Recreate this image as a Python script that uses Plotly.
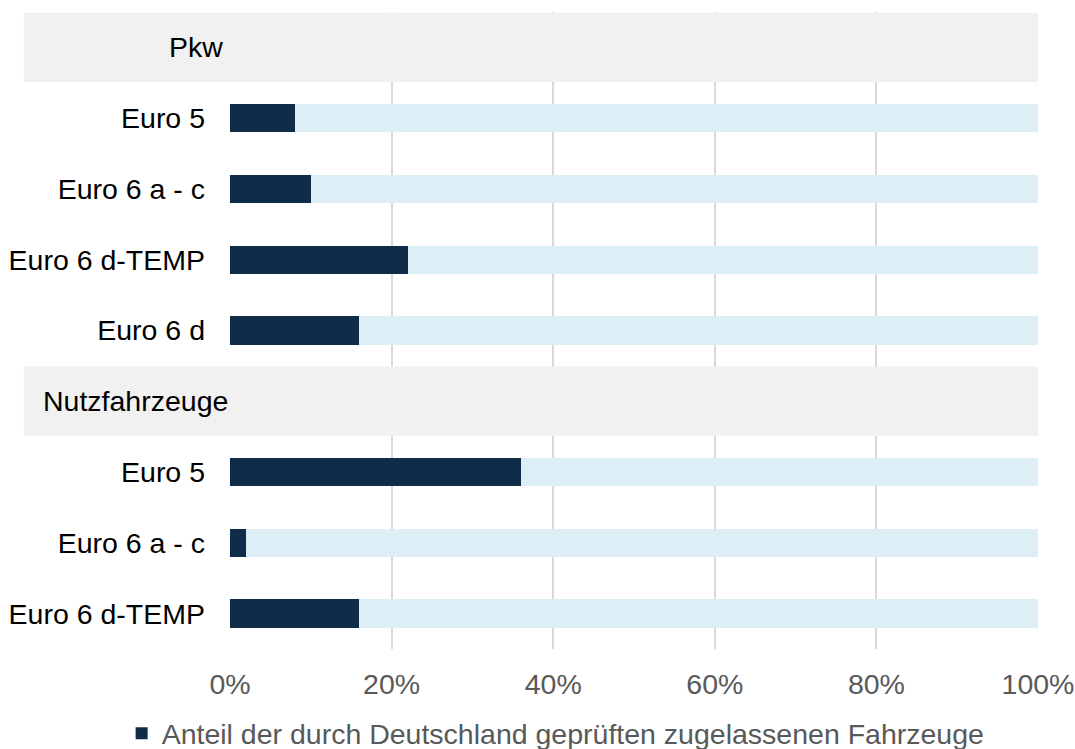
import plotly.graph_objects as go

# Anteil der durch Deutschland geprüften zugelassenen Fahrzeuge (in %)
pkw_labels = ["Euro 5", "Euro 6 a - c", "Euro 6 d-TEMP", "Euro 6 d"]
pkw_share = [8, 10, 22, 16]
nfz_labels = ["Euro 5", "Euro 6 a - c", "Euro 6 d-TEMP"]
nfz_share = [36, 2, 16]

group_titles = ["Pkw", "Nutzfahrzeuge"]
x_ticks = [0, 20, 40, 60, 80, 100]
x_ticktext = ["0%", "20%", "40%", "60%", "80%", "100%"]
legend_label = "Anteil der durch Deutschland geprüften zugelassenen Fahrzeuge"

DARK = "#0f2d48"
LIGHT = "#ddeef6"
BAND = "#f1f1f1"
FONT = "Liberation Sans, Arial, sans-serif"
FS = 28.5

# Row layout: header row for each group, then one row per category
pkw_rows = list(range(1, 1 + len(pkw_labels)))
nfz_header = len(pkw_labels) + 1
nfz_rows = list(range(nfz_header + 1, nfz_header + 1 + len(nfz_labels)))
rows = pkw_rows + nfz_rows
labels = pkw_labels + nfz_labels
share = pkw_share + nfz_share
rest = [100 - v for v in share]
n_rows = nfz_rows[-1] + 1

fig = go.Figure()
fig.add_trace(go.Bar(
    y=rows, x=share, orientation="h", width=0.4,
    marker=dict(color=DARK, line=dict(width=0)),
    name=legend_label, showlegend=True,
))
fig.add_trace(go.Bar(
    y=rows, x=rest, orientation="h", width=0.4,
    marker=dict(color=LIGHT, line=dict(width=0)),
    name="Rest", showlegend=False,
))

L, R = 229.5, 36.5
W, H = 1075, 749
plot_w = W - L - R


def px_to_paper(px):
    return (px - L) / plot_w


# gray header bands with group titles
for header_row, title, tx in [(0, group_titles[0], 166), (nfz_header, group_titles[1], 40)]:
    fig.add_shape(
        type="rect", xref="paper", yref="y",
        x0=px_to_paper(23), x1=1.0,
        y0=header_row - 0.49, y1=header_row + 0.49,
        fillcolor=BAND, line=dict(width=0), layer="above",
    )
    fig.add_annotation(
        xref="paper", yref="y", x=px_to_paper(tx), y=header_row,
        text=title, showarrow=False, xanchor="left", yanchor="middle",
        font=dict(family=FONT, size=FS, color="#000000"),
    )

fig.update_layout(
    width=W, height=H,
    margin=dict(l=L, r=R, t=12, b=100, autoexpand=False),
    barmode="stack",
    plot_bgcolor="white", paper_bgcolor="white",
    font=dict(family=FONT, size=FS, color="#595959"),
    xaxis=dict(
        range=[0, 100], tickvals=x_ticks, ticktext=x_ticktext,
        showgrid=True, gridcolor="#d9d9d9", gridwidth=2,
        zeroline=False, showline=False, ticks="",
        tickfont=dict(family=FONT, size=FS, color="#595959"),
        ticklabelstandoff=15, fixedrange=True,
    ),
    yaxis=dict(
        range=[n_rows - 0.5, -0.5], tickvals=rows, ticktext=labels,
        showgrid=False, zeroline=False, showline=False, ticks="",
        tickfont=dict(family=FONT, size=FS, color="#000000"),
        ticklabelstandoff=24, fixedrange=True,
    ),
    legend=dict(
        orientation="h", x=px_to_paper(121), xanchor="left",
        y=-0.133, yanchor="middle",
        font=dict(family=FONT, size=FS, color="#595959"),
        bgcolor="rgba(0,0,0,0)",
    ),
    bargap=0,
)

fig.write_html("out.html")
